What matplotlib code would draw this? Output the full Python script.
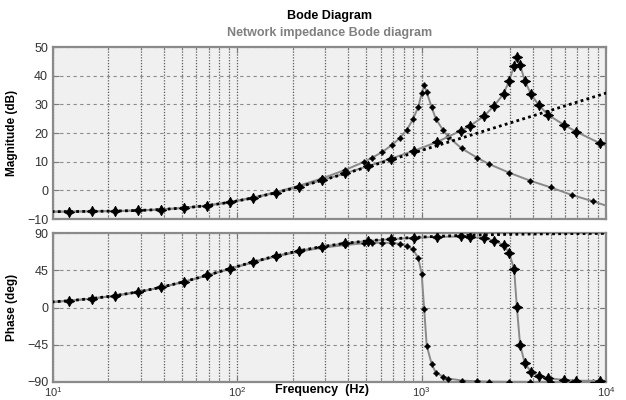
import matplotlib
matplotlib.use("Agg")
import matplotlib.pyplot as plt
from matplotlib.ticker import LogLocator, NullFormatter, FixedLocator

plt.rcParams['font.family'] = ['Liberation Sans', 'DejaVu Sans']
plt.rcParams['mathtext.fontset'] = 'custom'
plt.rcParams['mathtext.rm'] = 'Liberation Sans'
plt.rcParams['mathtext.it'] = 'Liberation Sans'
plt.rcParams['mathtext.bf'] = 'Liberation Sans:bold'

# ---- data ----
freq_A = [9.12, 12.16, 16.22, 21.63, 28.84, 38.46, 51.29, 68.39, 91.20, 121.6,
          162.2, 216.3, 288.4, 384.6, 512.9, 683.9, 912.0, 1216, 1622, 2163,
          2884, 3846, 5129, 6839, 9120, 12162]
mag_A = [-7.45, -7.41, -7.34, -7.23, -7.03, -6.69, -6.15, -5.33, -4.17, -2.66,
         -0.83, 1.24, 3.47, 5.82, 8.23, 10.68, 13.15, 15.63, 18.12, 20.62,
         23.12, 25.61, 28.11, 30.61, 33.11, 35.61]
phase_A = [6.12, 8.14, 10.80, 14.28, 18.74, 24.34, 31.11, 38.82, 47.01, 55.04,
           62.35, 68.55, 73.58, 77.54, 80.59, 82.91, 84.68, 86.00, 87.00, 87.75,
           88.31, 88.73, 89.05, 89.29, 89.47, 89.60]

freq_B = [9.12, 12.16, 16.22, 21.63, 28.84, 38.46, 51.29, 68.39, 91.20, 121.6,
          162.2, 216.3, 288.4, 384.6, 486, 540, 612, 690, 760, 829, 897, 960,
          1000, 1032, 1065, 1133, 1192, 1306, 1397, 1650, 2008, 2313, 2971,
          3864, 5024, 6511, 8468, 11000]
mag_B = [-7.45, -7.41, -7.34, -7.23, -7.03, -6.68, -6.13, -5.29, -4.10, -2.54,
         -0.62, 1.63, 4.17, 7.11, 9.9, 11.4, 13.4, 15.8, 18.2, 21.0, 24.8, 29.2,
         33.8, 36.7, 34.2, 29.0, 25.0, 21.0, 18.6, 14.6, 11.3, 9.2, 6.2,
         3.4, 1.0, -1.6, -3.8, -6.2]
phase_B = [6.08, 8.09, 10.73, 14.18, 18.61, 24.17, 30.88, 38.51, 46.59, 54.48,
           61.60, 67.53, 72.16, 75.52, 77.5, 78.0, 78.3, 78.0, 77.0, 74.5, 70.3, 59.4,
           40.4, -2.0, -46.1, -68.2, -78.6, -83.4, -85.8, -88.2, -89.2, -89.5, -89.8,
           -89.9, -89.9, -90.0, -90.0, -90.0]

freq_C = [9.12, 12.16, 16.22, 21.63, 28.84, 38.46, 51.29, 68.39, 91.20, 121.6,
          162.2, 216.3, 288.4, 384.6, 512.9, 683.9, 912.0, 1216, 1630, 1824,
          2181, 2472, 2780, 2982, 3174, 3283, 3420, 3629, 3912, 4307, 4858,
          5934, 6871, 9278, 12162]
mag_C = [-7.45, -7.41, -7.34, -7.23, -7.03, -6.69, -6.15, -5.33, -4.16, -2.65,
         -0.81, 1.27, 3.54, 5.94, 8.45, 11.07, 13.85, 16.91, 20.8, 22.4,
         25.9, 29.5, 33.6, 38.2, 43.4, 46.6, 43.7, 38.2, 33.6, 29.8, 26.3,
         22.8, 20.5, 16.4, 13.5]
phase_C = [6.12, 8.14, 10.80, 14.28, 18.74, 24.33, 31.10, 38.80, 46.98, 55.00,
           62.30, 68.48, 73.49, 77.42, 80.35, 82.59, 84.23, 85.36, 85.8, 85.3,
           83.6, 80.7, 75.5, 66.2, 46.2, 1.0, -45.3, -67.4, -77.5, -82.7, -85.5,
           -87.5, -88.4, -88.7, -89.0]

mag_ticks = [-10, 0, 10, 20, 30, 40, 50]
phase_ticks = [-90, -45, 0, 45, 90]
x_ticks = [10, 100, 1000, 10000]
x_ticklabels = [r'$10^{1}$', r'$10^{2}$', r'$10^{3}$', r'$10^{4}$']

# ---- figure ----
fig = plt.figure(figsize=(6.26, 4.0), dpi=100)
fig.patch.set_facecolor('white')
ax1 = fig.add_axes([53/626, 1-219/400, 553/626, 172/400])
ax2 = fig.add_axes([53/626, 1-382/400, 553/626, 149/400])

line_gray = '#8a8a8a'
star = (4, 1, 0)

def style(ax):
    ax.set_facecolor('#f0f0f0')
    ax.set_xscale('log')
    ax.set_xlim(10, 10000)
    ax.xaxis.set_major_locator(FixedLocator(x_ticks))
    ax.xaxis.set_minor_locator(LogLocator(base=10, subs=range(2, 10), numticks=20))
    ax.xaxis.set_minor_formatter(NullFormatter())
    ax.grid(True, which='major', axis='y', linestyle=(0, (3, 3)), color='#8c8c8c', lw=0.8)
    ax.grid(True, which='both', axis='x', linestyle=(0, (1, 1.3)), color='#5a5a5a', lw=0.9)
    ax.set_axisbelow(True)
    for s in ax.spines.values():
        s.set_color('#8a8a8a')
        s.set_linewidth(1.6)
    ax.tick_params(which='both', direction='in', top=True, right=True,
                   colors='#7a7a7a', labelcolor='#333333', labelsize=9)
    ax.tick_params(which='major', length=4)
    ax.tick_params(which='minor', length=2)

for ax in (ax1, ax2):
    style(ax)

# magnitude
ax1.plot(freq_B, mag_B, color=line_gray, lw=1.4, marker=star, ms=4,
         mfc='black', mec='black', zorder=3)
ax1.plot(freq_C, mag_C, color=line_gray, lw=1.4, marker=star, ms=7.5,
         mfc='black', mec='black', mew=0.6, zorder=3)
ax1.plot(freq_A, mag_A, color='black', lw=2.0, linestyle=(0, (1, 1.2)), zorder=4)
ax1.set_ylim(-10, 50)
ax1.set_yticks(mag_ticks)
ax1.set_xticklabels([])
ax1.set_ylabel('Magnitude (dB)', fontsize=8.5, fontweight='bold')
ax1.yaxis.set_label_coords(-0.063, 0.5)

# phase
ax2.plot(freq_B, phase_B, color=line_gray, lw=1.4, marker=star, ms=4,
         mfc='black', mec='black', zorder=3)
ax2.plot(freq_C, phase_C, color=line_gray, lw=1.4, marker=star, ms=7.5,
         mfc='black', mec='black', mew=0.6, zorder=3)
ax2.plot(freq_A, phase_A, color='black', lw=2.0, linestyle=(0, (1, 1.2)), zorder=4)
ax2.set_ylim(-90, 90)
ax2.set_yticks(phase_ticks)
ax2.set_xticklabels(x_ticklabels)
ax2.tick_params(axis='x', which='major', pad=2.5, labelsize=8)
ax2.set_ylabel('Phase (deg)', fontsize=8.5, fontweight='bold')
ax2.yaxis.set_label_coords(-0.063, 0.5)

cx = 0.5 * (53 + 606) / 626
fig.text(cx - 0.012, 1 - 390/400, 'Frequency  (Hz)', ha='center', va='center',
         fontsize=9, fontweight='bold', color='black')
fig.text(cx, 1 - 16/400, 'Bode Diagram', ha='center', va='center',
         fontsize=9, fontweight='bold', color='black')
fig.text(cx, 1 - 33/400, 'Network impedance Bode diagram',
         ha='center', va='center', fontsize=9, fontweight='bold', color='#808080')

fig.savefig('out.png', dpi=100)
